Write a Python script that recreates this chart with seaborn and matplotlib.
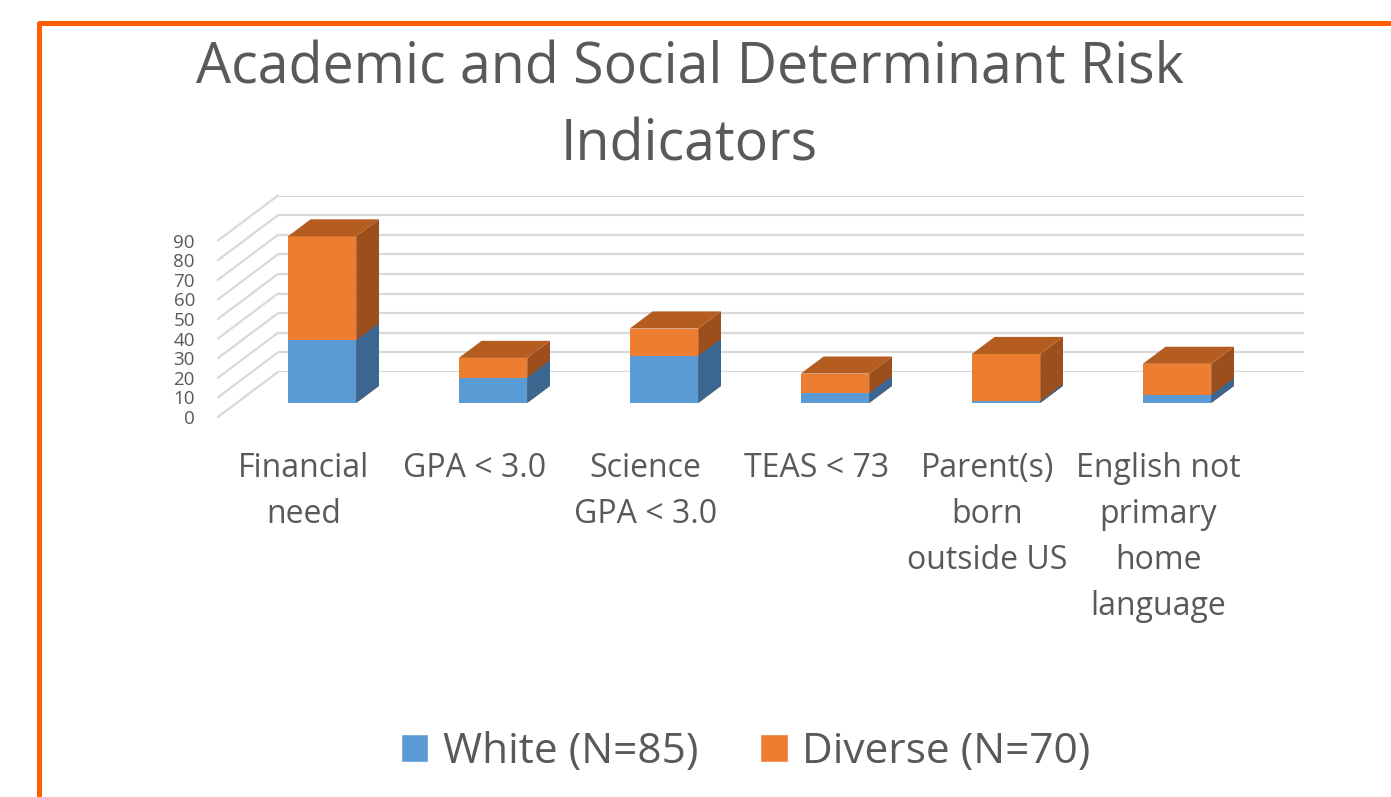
import matplotlib
matplotlib.use("Agg")
import matplotlib.pyplot as plt
import seaborn as sns
import pandas as pd
from matplotlib.patches import Polygon, Patch, ConnectionPatch
from matplotlib.lines import Line2D

# data
categories = ["Financial\nneed", "GPA < 3.0", "Science\nGPA < 3.0", "TEAS < 73",
              "Parent(s)\nborn\noutside US", "English not\nprimary\nhome\nlanguage"]
white = [32, 13, 24, 5, 1, 4]
diverse = [53, 10, 14, 10, 24, 16]
series_names = ["White (N=85)", "Diverse (N=70)"]
y_ticks = list(range(0, 100, 10))
title = "Academic and Social Determinant Risk\nIndicators"

# colours
BLUE = "#5B9BD5"
BLUE_SIDE = "#3B6690"
ORANGE = "#ED7D31"
ORANGE_SIDE = "#9C4F1C"
ORANGE_TOP = "#B55D21"
GRID = "#D9D9D9"
TEXT = "#595959"
FRAME = "#FF5E00"

# layout in pixels (fake 3D: three parallel planes)
W, H, DPI = 1391, 797, 100
PLOT_W, PLOT_H = 1026, 176.4
DEPTH_DX, DEPTH_DY = 22.8, 17.1   # bar depth on screen


def px_rect(left, zero_y):
    return [left / W, (H - zero_y) / H, PLOT_W / W, PLOT_H / H]


def main():
    sns.set_theme(style="white")
    plt.rcParams['font.family'] = ['Open Sans', 'DejaVu Sans']

    fig = plt.figure(figsize=(W / DPI, H / DPI), dpi=DPI)
    ax_back = fig.add_axes(px_rect(277.9, 372))    # back wall with gridlines
    ax_front = fig.add_axes(px_rect(217.9, 417))   # front edge carrying the labels
    ax = fig.add_axes(px_rect(236.5, 403))         # plane of the bar fronts

    df = pd.DataFrame({"category": categories, "white": white,
                       "total": [w + d for w, d in zip(white, diverse)]})

    # stacked bars: totals in orange, white share drawn over them
    sns.barplot(data=df, x="category", y="total", color=ORANGE, saturation=1,
                width=0.4, linewidth=0, ax=ax)
    sns.barplot(data=df, x="category", y="white", color=BLUE, saturation=1,
                width=0.4, linewidth=0, ax=ax)

    for a in (ax_back, ax_front, ax):
        a.set_xlim(-0.5, 5.5)
        a.set_ylim(0, 90)
        a.patch.set_visible(False)
        a.set_xlabel("")
        a.set_ylabel("")
        for s in a.spines.values():
            s.set_visible(False)

    ax.set_xticks([])
    ax.set_yticks([])

    # back wall gridlines
    ax_back.set_xticks([])
    ax_back.set_yticks(y_ticks)
    ax_back.tick_params(left=False, labelleft=False)
    ax_back.grid(axis='y', color=GRID, linewidth=1.6)

    # side wall diagonals
    for v in y_ticks:
        con = ConnectionPatch(xyA=(-0.5, v), coordsA=ax_front.transData,
                              xyB=(-0.5, v), coordsB=ax_back.transData,
                              color=GRID, linewidth=1.6, shrinkA=0, shrinkB=0, zorder=0)
        fig.add_artist(con)

    # labels on the front plane
    ax_front.grid(False)
    ax_front.set_yticks(y_ticks)
    ax_front.set_xticks(range(len(categories)))
    ax_front.set_xticklabels(categories, linespacing=1.51)
    ax_front.tick_params(axis='y', length=0, pad=16.5, labelsize=13.5, labelcolor=TEXT)
    ax_front.tick_params(axis='x', length=0, pad=25.5, labelsize=23, labelcolor=TEXT)

    # side and top faces of the bars
    def back_point(x, y):
        px, py = ax.transData.transform((x, y))
        return ax.transData.inverted().transform((px + DEPTH_DX, py + DEPTH_DY))

    n = len(categories)
    bars = list(ax.patches)
    for i, p in enumerate(bars):
        x0, y0 = p.get_x(), p.get_y()
        x1, y1 = x0 + p.get_width(), y0 + p.get_height()
        is_total = i < n
        side = [(x1, y0), (x1, y1), back_point(x1, y1), back_point(x1, y0)]
        ax.add_patch(Polygon(side, closed=True, facecolor=ORANGE_SIDE if is_total else BLUE_SIDE,
                             edgecolor="none", clip_on=False))
        if is_total:
            top = [(x0, y1), (x1, y1), back_point(x1, y1), back_point(x0, y1)]
            ax.add_patch(Polygon(top, closed=True, facecolor=ORANGE_TOP,
                                 edgecolor="none", clip_on=False))

    # title
    fig.text(689.5 / W, 1 - 41 / H, title, ha='center', va='top', fontsize=40,
             color=TEXT, linespacing=1.45)

    # legend
    handles = [Patch(facecolor=BLUE), Patch(facecolor=ORANGE)]
    fig.legend(handles=handles, labels=series_names, loc='center',
               bbox_to_anchor=(745.5 / W, 1 - 752 / H), ncol=2, frameon=False,
               fontsize=30.5, handlelength=0.65, handleheight=0.65,
               handletextpad=0.34, columnspacing=1.46, labelcolor=TEXT)

    # orange frame on the left and top
    fig.add_artist(Line2D([38.5 / W, 38.5 / W, 1.01], [-0.01, 1 - 22.5 / H, 1 - 22.5 / H],
                          transform=fig.transFigure, color=FRAME, linewidth=3.6))

    fig.savefig('out.png', dpi=DPI)
    plt.close(fig)


if __name__ == "__main__":
    main()
